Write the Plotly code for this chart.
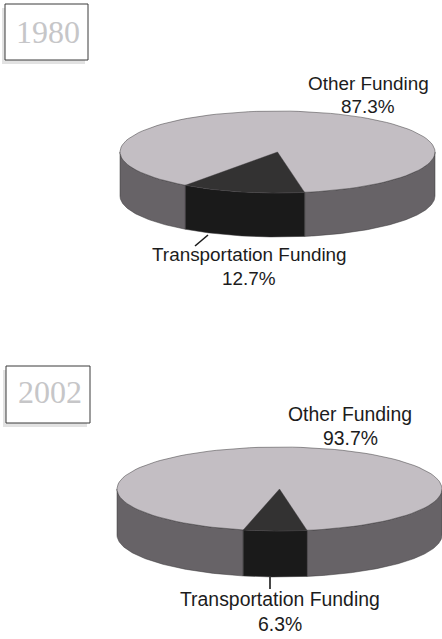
import numpy as np
import plotly.graph_objects as go

# Funding shares, percent of total
years = ["1980", "2002"]
transport_share = [12.7, 6.3]
other_share = [87.3, 93.7]
transport_label = "Transportation Funding"
other_label = "Other Funding"

# Disc geometry in page pixels: centre x, centre y, radii, thickness, wedge start (deg from front)
discs = [
    dict(cx=277.5, cy=152, rx=157.5, ry=41, depth=44, start=-35.8),
    dict(cx=279.5, cy=489, rx=162.5, ry=42, depth=46, start=-12.9),
]
year_boxes = [
    dict(x0=5, x1=88, y0=4, y1=60, tx=48, ty=32),
    dict(x0=6, x1=90, y0=366, y1=423, tx=50, ty=392),
]
label_spots = [
    dict(size=18.9, other=(368, 83), other_pct=(368, 106), trans=(249, 254), trans_pct=(249, 278),
         lead=((208, 235), (195, 246))),
    dict(size=19.4, other=(350, 414), other_pct=(350, 438), trans=(280, 599), trans_pct=(280, 624),
         lead=((270, 577), (270, 589))),
]

TOP = "#c3bec3"
SIDE = "#676367"
WEDGE_TOP = "#333232"
WEDGE_SIDE = "#1a1a1a"
EDGE = "#3a383a"
TEXT = "#1c1c1c"

fig = go.Figure()


def poly(xs, ys, fill, width=0.5, line=EDGE):
    fig.add_trace(go.Scatter(
        x=xs, y=ys, mode="lines", fill="toself", fillcolor=fill,
        line=dict(color=line, width=width), hoverinfo="skip", showlegend=False,
    ))


def rim(d, a0, a1):
    # Points on the top ellipse; angle 0 is the front, positive runs to the right
    a = np.radians(np.linspace(a0, a1, 120))
    return d["cx"] + d["rx"] * np.sin(a), d["cy"] + d["ry"] * np.cos(a)


def wall(d, a0, a1, fill):
    x, y = rim(d, a0, a1)
    poly(np.r_[x, x[::-1], x[0]], np.r_[y, y[::-1] + d["depth"], y[0]], fill)


for d, share in zip(discs, transport_share):
    a0 = d["start"]
    a1 = a0 + share * 3.6
    # Visible wall on either side of the wedge, then the wedge wall
    wall(d, -90, a0, SIDE)
    wall(d, a1, 90, SIDE)
    wall(d, a0, a1, WEDGE_SIDE)
    # Top face and the wedge on it
    x, y = rim(d, 0, 360)
    poly(x, y, TOP)
    x, y = rim(d, a0, a1)
    poly(np.r_[d["cx"], x, d["cx"]], np.r_[d["cy"], y, d["cy"]], WEDGE_TOP, width=0.4)

annotations = []


def label(pos, text, size, family="Liberation Sans", color=TEXT):
    annotations.append(dict(
        x=pos[0], y=pos[1], text=text, showarrow=False, xanchor="center", yanchor="middle",
        font=dict(family=family, size=size, color=color),
    ))


for spot, other, trans in zip(label_spots, other_share, transport_share):
    label(spot["other"], other_label, spot["size"])
    label(spot["other_pct"], f"{other}%", spot["size"])
    label(spot["trans"], transport_label, spot["size"])
    label(spot["trans_pct"], f"{trans}%", spot["size"])
    (x0, y0), (x1, y1) = spot["lead"]
    fig.add_trace(go.Scatter(
        x=[x0, x1], y=[y0, y1], mode="lines",
        line=dict(color="#1a1a1a", width=1.6), hoverinfo="skip", showlegend=False,
    ))

shapes = []
for box, year in zip(year_boxes, years):
    # Drop shadow offset to the lower left, then the framed year tag
    shapes.append(dict(type="rect", x0=box["x0"] - 3, x1=box["x1"] - 3, y0=box["y0"] + 4, y1=box["y1"] + 4,
                       fillcolor="#e2e2e2", line=dict(width=0), layer="below"))
    shapes.append(dict(type="rect", x0=box["x0"], x1=box["x1"], y0=box["y0"], y1=box["y1"],
                       fillcolor="white", line=dict(color="#3a3a3a", width=1), layer="below"))
    label((box["tx"], box["ty"]), year, 32, family="Liberation Serif", color="#c6c6c8")

fig.update_layout(
    width=442, height=639, margin=dict(l=0, r=0, t=0, b=0),
    paper_bgcolor="white", plot_bgcolor="white", showlegend=False,
    xaxis=dict(range=[0, 442], visible=False, fixedrange=True),
    yaxis=dict(range=[639, 0], visible=False, fixedrange=True),
    shapes=shapes, annotations=annotations,
)
fig.write_html("out.html", config=dict(displayModeBar=False))
